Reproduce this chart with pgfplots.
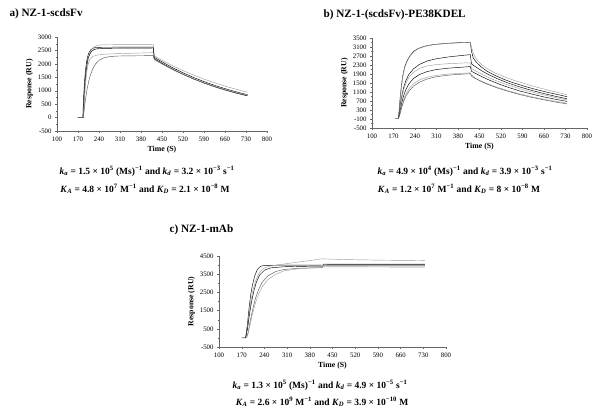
\documentclass[border=0pt]{standalone}
\usepackage{fontspec}
\setmainfont{Liberation Serif}
\usepackage{pgfplots}
\pgfplotsset{compat=1.18}
\definecolor{lgray}{gray}{0.62}
\definecolor{mgray}{gray}{0.35}

\pgfplotsset{
  spr/.style={
    scale only axis,
    axis x line*=bottom, axis y line*=left,
    xmin=100, xmax=800, xtick={100,170,...,800},
    enlargelimits=false,
    minor x tick num=1, minor y tick num=1,
    tick align=outside, major tick length=2pt, minor tick length=1.2pt,
    tick style={black!60, line width=0.3pt},
    axis line style={black!60, line width=0.4pt},
    every tick label/.append style={font=\fontsize{6.8}{7}\selectfont},
    /pgf/number format/assume math mode=true,
    /pgf/number format/set thousands separator={},
    xlabel={\textbf{Time (S)}}, ylabel={\textbf{Response (RU)}},
    label style={font=\fontsize{7.8}{8}\selectfont},
    xlabel style={yshift=2pt},
    ylabel style={yshift=-2pt},
    every axis plot/.append style={line width=0.45pt, no marks},
  },
  dk/.style={black},
  lt/.style={lgray},
  md/.style={mgray},
}
\newcommand{\eqfont}{\fontsize{9.5}{11}\selectfont\bfseries}
\newcommand{\ttlfont}{\fontsize{11.2}{13}\selectfont\bfseries}

\begin{document}
\begin{tikzpicture}[x=1pt,y=1pt]
\path[use as bounding box] (0,0) rectangle (601,416);

% a) NZ-1-scdsFv
\node[anchor=west,font=\ttlfont] at (6,402) {a) NZ-1-scdsFv};
\begin{axis}[spr, at={(57pt,285pt)}, anchor=south west, width=210pt, height=94pt,
  ymin=-500, ymax=3000, ytick={-500,0,...,3000}]
\addplot[dk] coordinates {(170,0)(186,0)(189,820)(192,1383)(195,1768)(198,2036)(202,2266)(206,2405)(212,2518)(220,2583)(230,2609)(250,2618)(300,2620)(350,2622)(400,2624)(421,2625)(424,2250)(440,2140)(460,2012)(490,1831)(520,1667)(555,1494)(590,1339)(630,1181)(670,1043)(705,935)(735,851)};
\addplot[lt] coordinates {(170,0)(188,0)(191,703)(194,1224)(197,1609)(200,1897)(205,2217)(210,2412)(218,2578)(228,2664)(245,2705)(280,2712)(330,2715)(380,2718)(421,2720)(424,2300)(440,2197)(460,2075)(490,1904)(520,1748)(555,1582)(590,1431)(630,1277)(670,1139)(705,1030)(735,945)};
\addplot[dk] coordinates {(170,0)(187,0)(190,730)(193,1257)(196,1631)(199,1899)(203,2190)(208,2330)(215,2464)(225,2541)(240,2572)(280,2580)(340,2585)(400,2588)(421,2590)(424,2200)(440,2090)(460,1959)(490,1778)(520,1614)(555,1441)(590,1288)(630,1131)(670,995)(705,889)(735,807)};
\addplot[lt] coordinates {(170,0)(188,0)(191,600)(194,1100)(197,1480)(200,1760)(205,2040)(210,2180)(220,2280)(235,2330)(260,2360)(300,2380)(350,2395)(400,2410)(421,2418)(424,2150)(440,2049)(460,1928)(490,1760)(520,1608)(555,1445)(590,1300)(630,1152)(670,1021)(705,917)(735,838)};
\addplot[md] coordinates {(170,0)(188,0)(192,418)(196,760)(200,1038)(205,1319)(210,1535)(218,1787)(228,1990)(240,2130)(255,2220)(275,2271)(300,2291)(350,2300)(421,2305)(424,2180)(440,2071)(460,1945)(490,1768)(520,1607)(555,1439)(590,1286)(630,1133)(670,998)(705,894)(735,813)};
\end{axis}
\node[font=\eqfont] at (147,245) {\textit{k}\textsubscript{\textit{a}} = 1.5 × 10\textsuperscript{5} (Ms)\textsuperscript{−1} and \textit{k}\textsubscript{\textit{d}} = 3.2 × 10\textsuperscript{−3} s\textsuperscript{−1}};
\node[font=\eqfont] at (145,227) {\textit{K}\textsubscript{\textit{A}} = 4.8 × 10\textsuperscript{7} M\textsuperscript{−1} and \textit{K}\textsubscript{\textit{D}} = 2.1 × 10\textsuperscript{−8} M};

% b) NZ-1-(scdsFv)-PE38KDEL
\node[anchor=west,font=\ttlfont] at (320,401) {b) NZ-1-(scdsFv)-PE38KDEL};
\begin{axis}[spr, at={(372pt,288pt)}, anchor=south west, width=215pt, height=90pt,
  ymin=-500, ymax=3500, ytick={-500,-100,...,3500}]
\addplot[dk] coordinates {(176,-80)(186,-80)(189,400)(192,900)(196,1400)(200,1800)(206,2200)(213,2450)(222,2680)(235,2900)(250,3030)(270,3130)(300,3210)(340,3260)(380,3290)(420,3310)(424,2900)(430,2600)(440,2420)(455,2220)(475,2020)(500,1840)(530,1660)(560,1510)(600,1340)(640,1190)(680,1060)(710,970)(735,890)};
\addplot[lt] coordinates {(176,-80)(186,-80)(189,300)(192,800)(196,1350)(200,1750)(206,2150)(213,2420)(222,2650)(235,2880)(250,3020)(270,3120)(300,3200)(340,3255)(380,3285)(420,3305)(425,3050)(430,2800)(440,2560)(455,2340)(475,2140)(500,1950)(530,1780)(560,1630)(600,1460)(640,1300)(680,1160)(710,1060)(735,970)};
\addplot[dk] coordinates {(186,-80)(190,300)(194,700)(198,1000)(203,1300)(210,1600)(220,1880)(235,2130)(255,2330)(280,2480)(310,2580)(350,2660)(390,2720)(420,2760)(424,2350)(435,2240)(455,2060)(480,1870)(510,1680)(545,1490)(580,1330)(620,1170)(660,1030)(700,900)(735,800)};
\addplot[lt] coordinates {(186,-80)(190,250)(194,600)(198,900)(203,1200)(210,1480)(220,1750)(235,1980)(255,2150)(280,2260)(310,2320)(350,2360)(390,2385)(420,2400)(424,2150)(435,2060)(455,1910)(480,1740)(510,1570)(545,1400)(580,1250)(620,1100)(660,970)(700,850)(735,750)};
\addplot[dk] coordinates {(186,-80)(190,150)(194,420)(198,680)(203,940)(210,1200)(220,1460)(235,1700)(255,1880)(280,2010)(310,2100)(350,2160)(390,2200)(420,2230)(424,2020)(435,1940)(455,1800)(480,1640)(510,1470)(545,1300)(580,1150)(620,1010)(660,880)(700,770)(735,680)};
\addplot[lt] coordinates {(186,-80)(190,100)(194,330)(198,540)(203,770)(210,1000)(220,1240)(235,1470)(255,1640)(280,1760)(310,1840)(350,1900)(390,1930)(420,1950)(424,1780)(435,1710)(455,1590)(480,1450)(510,1300)(545,1150)(580,1020)(620,890)(660,780)(700,680)(735,600)};
\addplot[md] coordinates {(186,-80)(190,60)(194,260)(198,460)(203,680)(210,900)(220,1130)(235,1360)(255,1540)(280,1680)(310,1780)(350,1850)(390,1890)(420,1915)(424,1850)(435,1720)(455,1570)(480,1420)(510,1270)(545,1120)(580,990)(620,860)(660,750)(700,650)(735,570)};
\end{axis}
\node[font=\eqfont] at (465,245) {\textit{k}\textsubscript{\textit{a}} = 4.9 × 10\textsuperscript{4} (Ms)\textsuperscript{−1} and \textit{k}\textsubscript{\textit{d}} = 3.9 × 10\textsuperscript{−3} s\textsuperscript{−1}};
\node[font=\eqfont] at (459,227) {\textit{K}\textsubscript{\textit{A}} = 1.2 × 10\textsuperscript{7} M\textsuperscript{−1} and \textit{K}\textsubscript{\textit{D}} = 8 × 10\textsuperscript{−8} M};

% c) NZ-1-mAb
\node[anchor=west,font=\ttlfont] at (166,186) {c) NZ-1-mAb};
\begin{axis}[spr, at={(219pt,69pt)}, anchor=south west, width=227pt, height=91pt,
  ymin=-500, ymax=4500, ytick={-500,500,...,4500}]
\addplot[dk] coordinates {(170,0)(182,0)(188,800)(193,1700)(198,2400)(203,2900)(210,3400)(218,3750)(228,3930)(240,3980)(280,3995)(350,4000)(420,4005)(425,4020)(500,4030)(600,4030)(735,4030)};
\addplot[lt] coordinates {(182,0)(188,600)(193,1350)(198,2000)(205,2650)(213,3150)(223,3550)(235,3800)(255,3940)(300,4060)(350,4180)(400,4300)(420,4350)(440,4330)(500,4300)(600,4270)(735,4250)};
\addplot[dk] coordinates {(182,0)(188,500)(194,1300)(200,1950)(207,2550)(215,3050)(225,3450)(240,3720)(260,3850)(300,3910)(350,3930)(420,3950)(425,3960)(600,3960)(735,3960)};
\addplot[md] coordinates {(185,0)(190,300)(196,900)(203,1500)(212,2150)(222,2650)(233,3050)(250,3400)(275,3650)(300,3760)(340,3820)(380,3845)(418,3860)(422,4050)(450,4050)(600,4050)(735,4050)};
\addplot[lt] coordinates {(185,0)(190,250)(196,750)(203,1300)(212,1900)(222,2400)(233,2800)(250,3200)(275,3500)(300,3680)(340,3790)(380,3840)(418,3870)(422,3900)(500,3900)(735,3890)};
\end{axis}
\node[font=\eqfont] at (320,31) {\textit{k}\textsubscript{\textit{a}} = 1.3 × 10\textsuperscript{5} (Ms)\textsuperscript{−1} and \textit{k}\textsubscript{\textit{d}} = 4.9 × 10\textsuperscript{−5} s\textsuperscript{−1}};
\node[font=\eqfont] at (322,14) {\textit{K}\textsubscript{\textit{A}} = 2.6 × 10\textsuperscript{9} M\textsuperscript{−1} and \textit{K}\textsubscript{\textit{D}} = 3.9 × 10\textsuperscript{−10} M};
\end{tikzpicture}
\end{document}
